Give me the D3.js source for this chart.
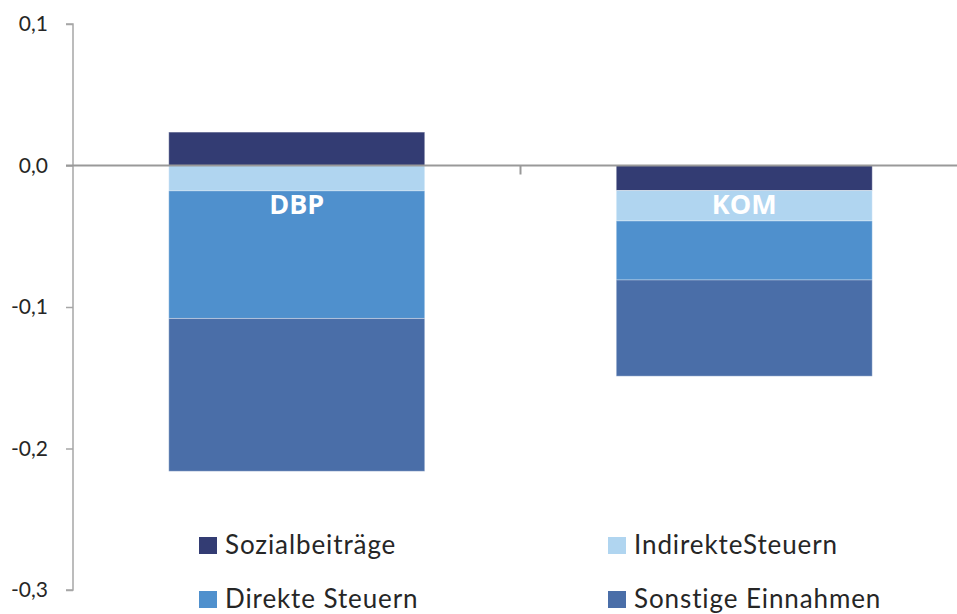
<!DOCTYPE html>
<html>
<head>
<meta charset="utf-8">
<script src="https://cdn.jsdelivr.net/npm/d3@7"></script>
<style>
  body { margin: 0; background: #fff; }
  svg { display: block; font-family: "Lato", "Open Sans", sans-serif; }
  .tickLabel { font-size: 21px; fill: #262626; }
  .legendLabel { font-size: 26px; fill: #262626; letter-spacing: 0.9px; }
  .barLabel { font-size: 27px; font-weight: bold; fill: #fff; font-family: "Open Sans", sans-serif; }
</style>
</head>
<body>
<div id="chart"></div>
<script>
// Chart data
let categories = ["DBP", "KOM"];
let seriesNames = ["Sozialbeiträge", "IndirekteSteuern", "Direkte Steuern", "Sonstige Einnahmen"];
let sozialbeitraege = [0.0236, -0.0177];
let indirekteSteuern = [-0.0179, -0.0215];
let direkteSteuern = [-0.0902, -0.0417];
let sonstigeEinnahmen = [-0.1080, -0.0680];
let yTicks = [0.1, 0.0, -0.1, -0.2, -0.3];
let tickLabels = ["0,1", "0,0", "-0,1", "-0,2", "-0,3"];

let colors = ["#333c73", "#b0d5f0", "#4f90cd", "#4a6ea8"];
let allSeries = [sozialbeitraege, indirekteSteuern, direkteSteuern, sonstigeEinnahmen];

let width = 957, height = 614;
let svg = d3.select("#chart").append("svg")
  .attr("width", width)
  .attr("height", height);

let axisX = 73;
let yScale = d3.scaleLinear()
  .domain([-0.3, 0.1])
  .range([590, 24]);
let xScale = d3.scaleBand()
  .domain(categories)
  .range([axisX, 968])
  .paddingInner(0.428)
  .paddingOuter(0.214);

// Stack each category: positives up from zero, negatives down from zero
let segments = [];
categories.forEach(function (cat, i) {
  let pos = 0, neg = 0;
  allSeries.forEach(function (s, j) {
    let v = s[i];
    let y0, y1;
    if (v >= 0) { y0 = pos; y1 = pos + v; pos = y1; }
    else { y0 = neg; y1 = neg + v; neg = y1; }
    segments.push({cat: cat, series: j, y0: y0, y1: y1});
  });
});

// Bars
svg.append("g").selectAll("rect")
  .data(segments)
  .enter().append("rect")
  .attr("x", function (d) { return xScale(d.cat); })
  .attr("width", xScale.bandwidth())
  .attr("y", function (d) { return yScale(Math.max(d.y0, d.y1)); })
  .attr("height", function (d) { return Math.abs(yScale(d.y0) - yScale(d.y1)); })
  .attr("fill", function (d) { return colors[d.series]; })
  .attr("stroke", "rgba(255,255,255,0.35)")
  .attr("stroke-width", 1);

// Vertical axis
let yAxis = svg.append("g")
  .attr("transform", `translate(${axisX},0)`)
  .call(d3.axisLeft(yScale).tickValues(yTicks).tickSize(7).tickFormat(""));
yAxis.select(".domain").attr("stroke", "#a6a6a6").attr("stroke-width", 1.5)
  .attr("d", `M-7,${yScale(0.1)}H0V${yScale(-0.3)}H-7`);
yAxis.selectAll(".tick line").attr("stroke", "#a6a6a6").attr("stroke-width", 1.5);

svg.append("g").selectAll("text")
  .data(yTicks)
  .enter().append("text")
  .attr("class", "tickLabel")
  .attr("text-anchor", "end")
  .attr("x", 48)
  .attr("y", function (d) { return yScale(d) + 7; })
  .text(function (d, i) { return tickLabels[i]; });

// Zero line with category tick
svg.append("line")
  .attr("x1", axisX - 7).attr("x2", width)
  .attr("y1", yScale(0)).attr("y2", yScale(0))
  .attr("stroke", "#999").attr("stroke-width", 2);
let midX = xScale(categories[1]) - xScale.step() * xScale.paddingInner() / 2;
svg.append("line")
  .attr("x1", midX).attr("x2", midX)
  .attr("y1", yScale(0)).attr("y2", yScale(0) + 9)
  .attr("stroke", "#999").attr("stroke-width", 2);

// Category labels inside the bars
svg.append("g").selectAll("text")
  .data(categories)
  .enter().append("text")
  .attr("class", "barLabel")
  .attr("text-anchor", "middle")
  .attr("x", function (d) { return xScale(d) + xScale.bandwidth() / 2; })
  .attr("y", 214)
  .text(function (d) { return d; });

// Legend
let legendPos = [[199, 545], [608, 545], [199, 599], [608, 599]];
let legendOrder = [0, 1, 2, 3];
let legend = svg.append("g").selectAll("g")
  .data(legendOrder)
  .enter().append("g")
  .attr("transform", function (d, i) { return `translate(${legendPos[i][0]},${legendPos[i][1]})`; });
legend.append("rect")
  .attr("x", 0).attr("y", -8)
  .attr("width", 18).attr("height", 17)
  .attr("fill", function (d) { return colors[d]; });
legend.append("text")
  .attr("class", "legendLabel")
  .attr("x", 26)
  .attr("y", 9)
  .text(function (d) { return seriesNames[d]; });
</script>
</body>
</html>
